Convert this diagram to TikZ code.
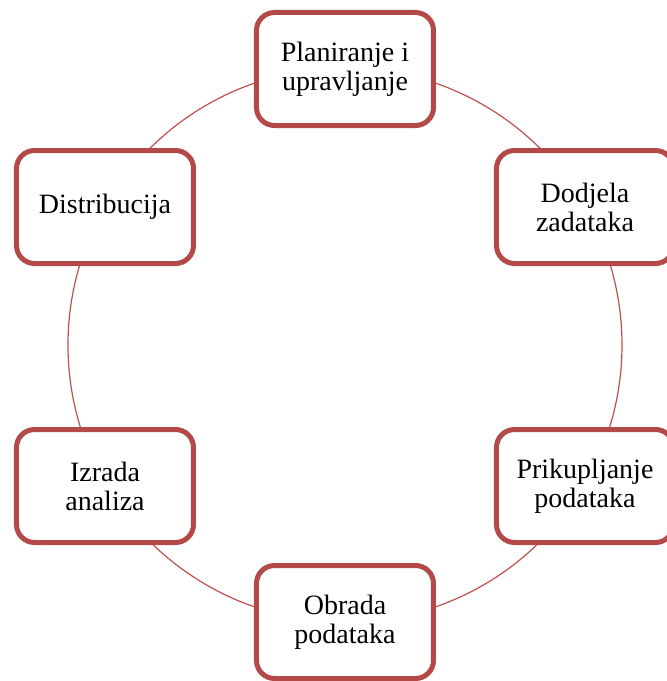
\documentclass[tikz,border=0pt]{standalone}
\usepackage{fontspec}
\setmainfont{Liberation Serif}
\definecolor{ringred}{RGB}{192,80,77}
\definecolor{boxred}{RGB}{180,74,71}
\tikzset{
	stage/.style={draw=boxred, line width=5pt, fill=white, rounded corners=18pt,
		minimum width=177pt, minimum height=113pt, align=center,
		font=\fontsize{28}{29}\selectfont, inner sep=2pt}
}

\begin{document}
\begin{tikzpicture}[x=1pt, y=1pt]
			%%%%% START %%%%%
			\useasboundingbox (-345, -336) rectangle (322, 345);
			
			\draw[ringred, line width=1.2pt] (0, 0) circle (277);
			
			\node[stage] (plan) at (0, 276) {Planiranje i\\upravljanje};
			\node[stage] (dodjela) at (240, 138) {Dodjela\\zadataka};
			\node[stage] (prikup) at (240, -141) {Prikupljanje\\podataka};
			\node[stage] (obrada) at (0, -277) {Obrada\\podataka};
			\node[stage] (izrada) at (-240, -141) {Izrada\\analiza};
			\node[stage] (distr) at (-240, 138) {Distribucija};
			%%%%% END %%%%%
		\end{tikzpicture}
\end{document}
